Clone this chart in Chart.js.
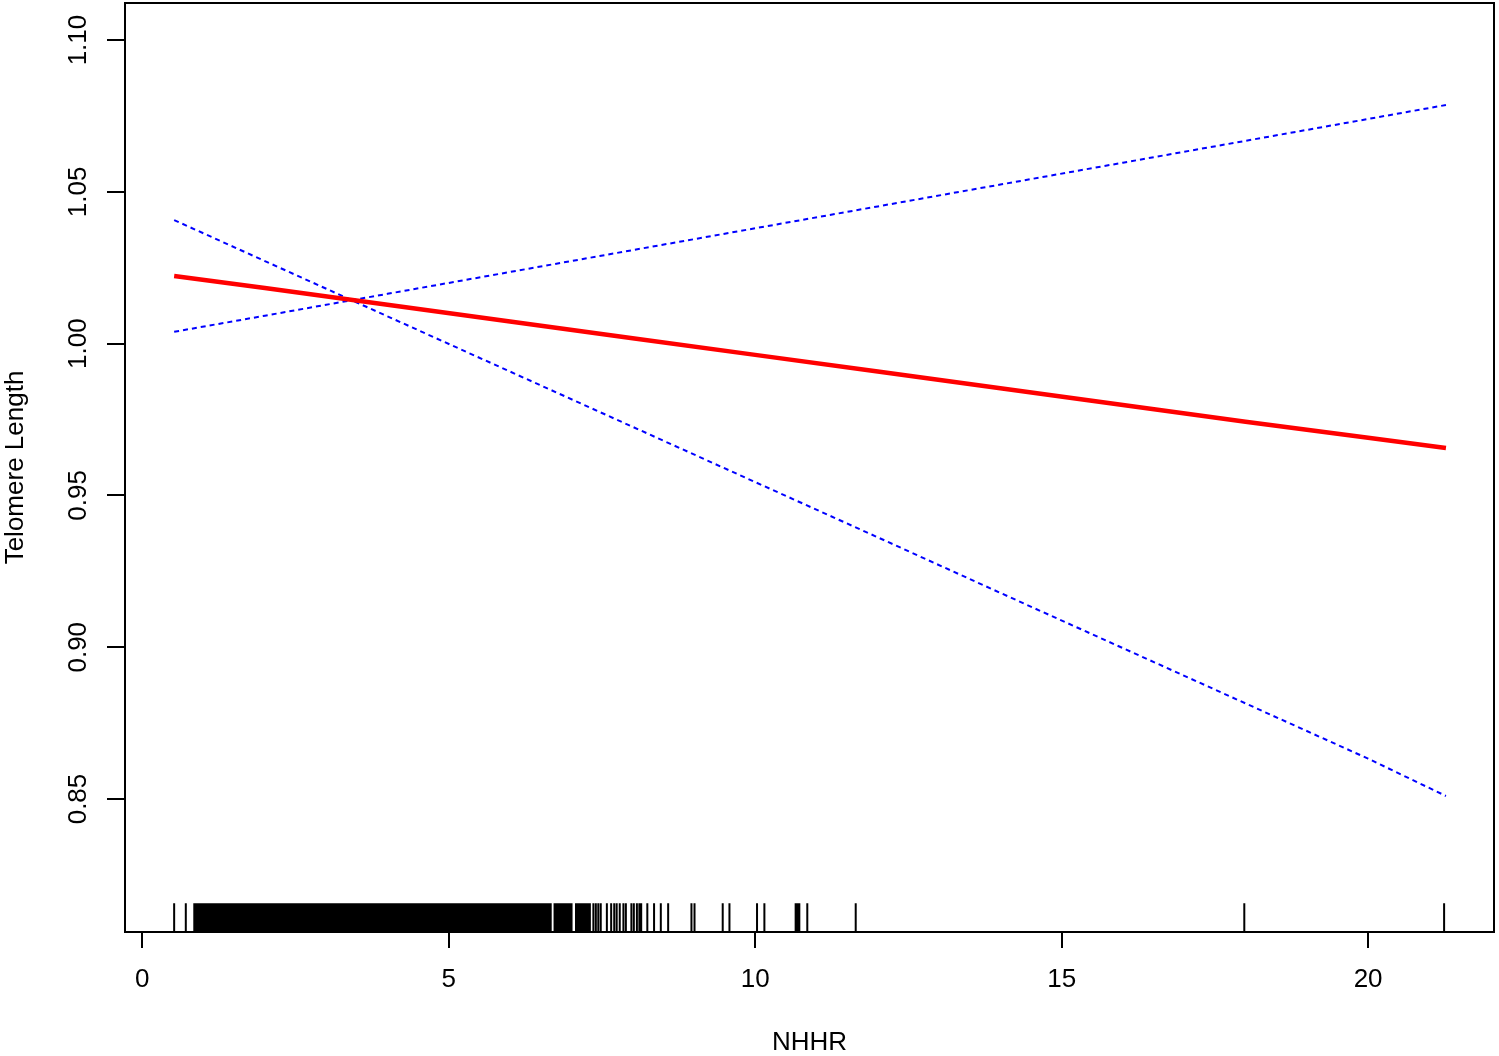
<!DOCTYPE html>
<html><head><meta charset="utf-8">
<script src="https://cdn.jsdelivr.net/npm/chart.js@4.4.1/dist/chart.umd.min.js"></script>
<style>html,body{margin:0;padding:0;background:#fff;overflow:hidden}#wrap{width:1499px;height:1056px}</style>
</head><body><div id="wrap"><canvas id="c" width="1499" height="1056"></canvas></div>
<script>
// NHHR values at which the curves were read
const xFit = [0.52, 2, 4, 6, 8, 10, 12, 14, 16, 18, 20, 21.27];
// fitted telomere length (red)
const fitValues = [1.0223, 1.0183, 1.0128, 1.0073, 1.0018, 0.9963, 0.9908, 0.9853, 0.9798, 0.9743, 0.9690, 0.9656];
// upper 95% CI (blue dotted)
const upperValues = [1.0039, 1.0092, 1.0164, 1.0236, 1.0308, 1.0380, 1.0452, 1.0524, 1.0596, 1.0668, 1.0740, 1.0786];
// lower 95% CI (blue dotted)
const lowerValues = [1.0407, 1.0272, 1.0090, 0.9908, 0.9726, 0.9544, 0.9362, 0.9179, 0.8997, 0.8815, 0.8633, 0.8510];
// individual rug ticks (NHHR observations)
const rugValues = [0.52, 0.71, 7.36, 7.40, 7.44, 7.48, 7.58, 7.65, 7.70, 7.74, 7.79, 7.85, 7.89, 7.98, 8.02, 8.07, 8.11, 8.14, 8.24, 8.35, 8.46, 8.58, 8.96, 9.01, 9.47, 9.58, 10.03, 10.15, 10.66, 10.69, 10.72, 10.85, 11.64, 17.98, 21.24];
// dense runs of rug ticks (start, end)
const rugBlockStarts = [0.83, 6.71, 7.06];
const rugBlockEnds = [6.68, 7.02, 7.32];
const xTicks = [0, 5, 10, 15, 20];
const yTicks = [0.85, 0.90, 0.95, 1.00, 1.05, 1.10];

const yMin = 0.8062, yMax = 1.1122, xMin = -0.282, xMax = 22.054, rugTop = 0.8157;
const FONT = "'Liberation Sans', Arial, sans-serif";

const pts = (xs, ys) => xs.map((x, i) => ({x: x, y: ys[i]}));
const rugData = [];
rugValues.forEach(v => { rugData.push({x: v, y: yMin}, {x: v, y: rugTop}, {x: v, y: null}); });
const blockData = [];
rugBlockStarts.forEach((s, i) => {
  const e = rugBlockEnds[i];
  blockData.push({x: s, y: yMin}, {x: s, y: rugTop}, {x: e, y: rugTop}, {x: e, y: yMin});
});

const tickGrid = (len) => ({display: true, drawOnChartArea: false, drawTicks: true, tickLength: len, color: '#000', lineWidth: 2});
const border = {display: true, color: '#000', width: 2};
const noPad = s => { s.paddingTop = 0; s.paddingBottom = 0; s.paddingLeft = 0; s.paddingRight = 0; };

new Chart(document.getElementById('c'), {
  type: 'line',
  data: {
    datasets: [
      {label: 'fit', data: pts(xFit, fitValues), borderColor: '#ff0000', borderWidth: 4.5, pointRadius: 0, tension: 0, fill: false},
      {label: 'upper', data: pts(xFit, upperValues), borderColor: '#0000ff', borderWidth: 2, borderDash: [5, 4], pointRadius: 0, tension: 0, fill: false},
      {label: 'lower', data: pts(xFit, lowerValues), borderColor: '#0000ff', borderWidth: 2, borderDash: [5, 4], pointRadius: 0, tension: 0, fill: false},
      {label: 'rug', data: rugData, borderColor: '#000', borderWidth: 2, pointRadius: 0, spanGaps: false, fill: false},
      {label: 'rugBlocks', data: blockData, borderColor: '#000', borderWidth: 0, backgroundColor: '#000', pointRadius: 0, fill: {value: yMin}}
    ]
  },
  options: {
    responsive: false,
    devicePixelRatio: 1,
    animation: false,
    layout: {padding: {left: 0, right: 5, top: 3, bottom: 0}},
    plugins: {legend: {display: false}, tooltip: {enabled: false}},
    scales: {
      x: {
        type: 'linear', position: 'bottom', min: xMin, max: xMax,
        afterBuildTicks: s => { s.ticks = xTicks.map(v => ({value: v})); },
        afterFit: s => { s.height = 124; noPad(s); },
        ticks: {color: '#000', font: {family: FONT, size: 26}, padding: 16, maxRotation: 0, autoSkip: false, callback: v => String(v)},
        grid: tickGrid(16), border: border,
        title: {display: true, text: 'NHHR', color: '#000', font: {family: FONT, size: 26, lineHeight: 1}, padding: 0}
      },
      y: {
        type: 'linear', position: 'left', min: yMin, max: yMax,
        afterBuildTicks: s => { s.ticks = yTicks.map(v => ({value: v})); },
        afterFit: s => { s.width = 125; noPad(s); },
        ticks: {color: '#000', font: {family: FONT, size: 26}, padding: 3, minRotation: 90, maxRotation: 90, crossAlign: 'center', autoSkip: false, callback: v => v.toFixed(2)},
        grid: tickGrid(18), border: border,
        title: {display: true, text: 'Telomere Length', color: '#000', font: {family: FONT, size: 26, lineHeight: 1.2}, padding: 0}
      },
      x2: {
        type: 'linear', position: 'top', display: true, min: xMin, max: xMax,
        afterFit: s => { s.height = 0; noPad(s); },
        ticks: {display: false}, grid: {display: false, drawTicks: false}, border: border
      },
      y2: {
        type: 'linear', position: 'right', display: true, min: yMin, max: yMax,
        afterFit: s => { s.width = 0; noPad(s); },
        ticks: {display: false}, grid: {display: false, drawTicks: false}, border: border
      }
    }
  }
});
</script></body></html>
